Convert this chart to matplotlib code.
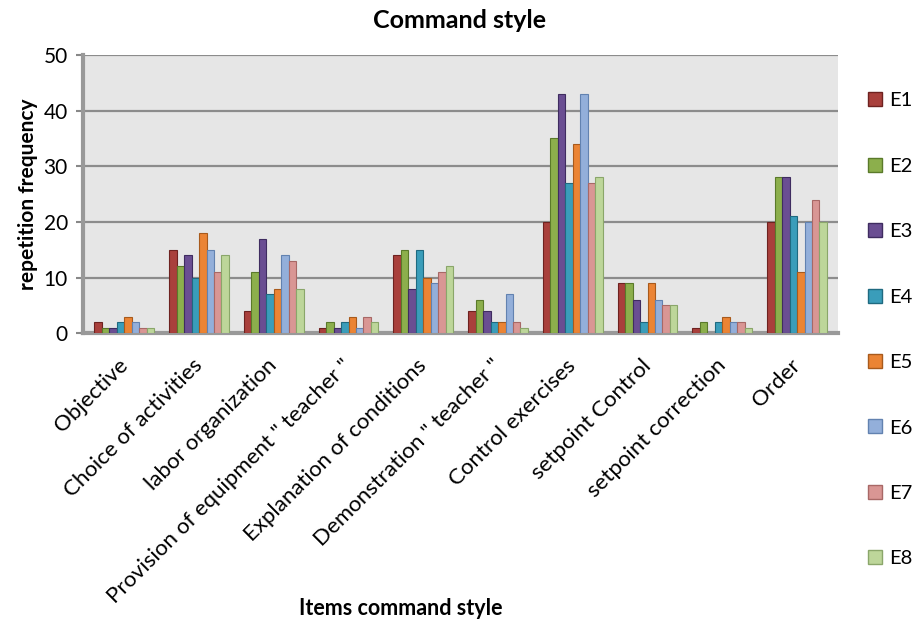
import matplotlib.pyplot as plt
import matplotlib.transforms as mtransforms
import numpy as np
from matplotlib.lines import Line2D

plt.rcParams['font.family'] = ['Lato', 'DejaVu Sans']

# --------- data ----------
items = ["Objective", "Choice of activities", "labor organization",
         "Provision of equipment \" teacher \"", "Explanation of conditions",
         "Demonstration \" teacher \"", "Control exercises", "setpoint Control",
         "setpoint correction", "Order"]
series = ["E1", "E2", "E3", "E4", "E5", "E6", "E7", "E8"]

E1 = [2, 15, 4, 1, 14, 4, 20, 9, 1, 20]
E2 = [1, 12, 11, 2, 15, 6, 35, 9, 2, 28]
E3 = [1, 14, 17, 1, 8, 4, 43, 6, 0, 28]
E4 = [2, 10, 7, 2, 15, 2, 27, 2, 2, 21]
E5 = [3, 18, 8, 3, 10, 2, 34, 9, 3, 11]
E6 = [2, 15, 14, 1, 9, 7, 43, 6, 2, 20]
E7 = [1, 11, 13, 3, 11, 2, 27, 5, 2, 24]
E8 = [1, 14, 8, 2, 12, 1, 28, 5, 1, 20]
values = [E1, E2, E3, E4, E5, E6, E7, E8]

colors = ["#A9403C", "#8CAF4C", "#6A4E92", "#3A9DBA",
          "#EB8434", "#93AFDA", "#D99694", "#BDD69A"]
edges = ["#6E2220", "#5A7A2A", "#3F2C60", "#1F6A80",
         "#A85A1C", "#6282B0", "#A86866", "#8AA66A"]

# --------- figure ----------
fig = plt.figure(figsize=(9.14, 6.24), dpi=100)
ax = fig.add_axes([0.091, 0.466, 0.826, 0.446])
ax.set_facecolor("#E6E6E6")

x = np.arange(len(items))
w = 0.1
for i, (name, vals) in enumerate(zip(series, values)):
    ax.bar(x + (i - 3.5) * w, vals, width=w, color=colors[i],
           edgecolor=edges[i], linewidth=0.8, label=name, zorder=3)

ax.set_xlim(-0.55, len(items) - 0.45)
ax.set_ylim(0, 50)
ax.set_yticks(range(0, 51, 10))
ax.yaxis.grid(True, color="#8C8C8C", linewidth=1.6, zorder=0)
ax.set_axisbelow(True)
ax.tick_params(axis="y", labelsize=15, length=5, color="#888888", width=1.5, pad=6)
ax.tick_params(axis="x", length=0, labelsize=16, pad=16)
ax.set_xticks(x)
ax.set_xticklabels(items, rotation=45, ha="right", rotation_mode="anchor")

# nudge the slanted labels a bit left, like the 3D floor offset
shift = mtransforms.ScaledTranslation(-0.07, 0, fig.dpi_scale_trans)
for lab in ax.get_xticklabels():
    lab.set_transform(lab.get_transform() + shift)

for side in ["top", "right"]:
    ax.spines[side].set_visible(False)
ax.spines["left"].set_color("#999999")
ax.spines["left"].set_linewidth(3)
ax.spines["bottom"].set_color("#999999")
ax.spines["bottom"].set_linewidth(3)

ax.set_ylabel("repetition frequency", fontsize=15, fontweight="bold", labelpad=4)
ax.set_xlabel("Items command style", fontsize=15.5, fontweight="bold")
ax.xaxis.set_label_coords(0.42, -0.95)
fig.text(0.503, 0.967, "Command style", ha="center", va="center",
         fontsize=18, fontweight="bold")

handles = [Line2D([0], [0], marker="s", linestyle="none", markersize=10,
                  markerfacecolor=colors[i], markeredgecolor=edges[i])
           for i in range(len(series))]
fig.legend(handles, series, loc="upper left", bbox_to_anchor=(0.937, 0.865),
           frameon=False, fontsize=14.5, labelspacing=2.4, handletextpad=0.2,
           handlelength=1.0, borderaxespad=0)

fig.savefig("out.png", dpi=100)
